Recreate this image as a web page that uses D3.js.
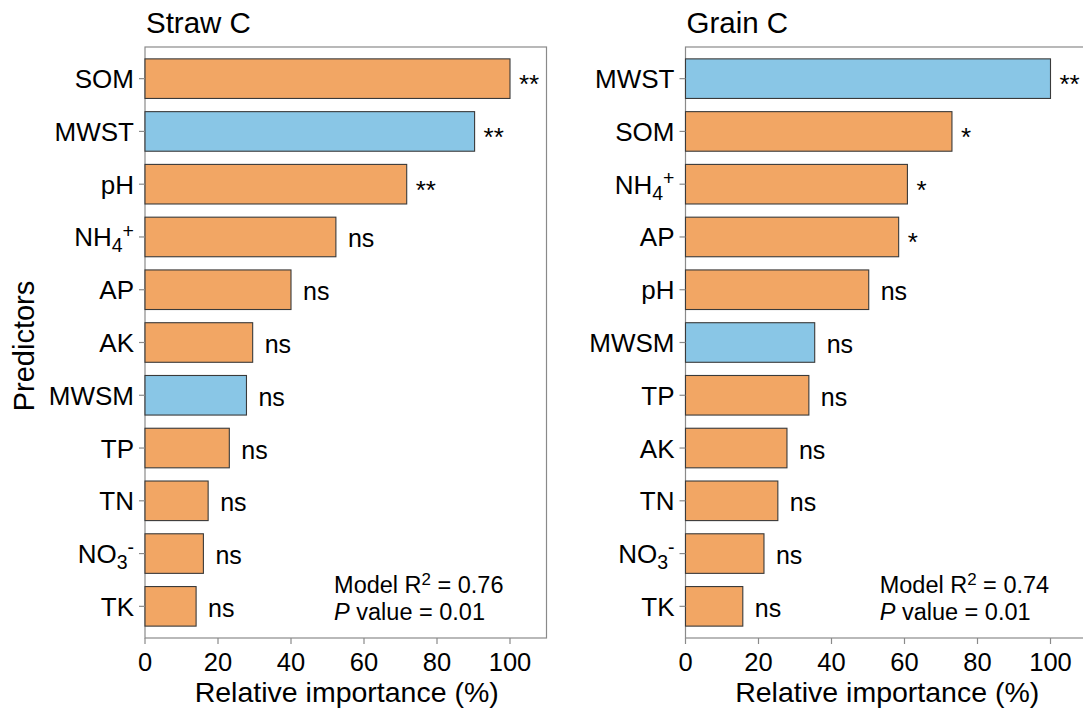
<!DOCTYPE html>
<html><head><meta charset="utf-8">
<script src="https://cdn.jsdelivr.net/npm/d3@7"></script>
<style>
body{margin:0;background:#fff;}
text{font-family:"Liberation Sans",Arial,Helvetica,sans-serif;fill:#000;}
</style></head>
<body><svg id="c" width="1083" height="711"></svg>
<script>
// Straw C panel
const strawPredictors = ["SOM","MWST","pH","NH4+","AP","AK","MWSM","TP","TN","NO3-","TK"];
const strawValues     = [100, 90.3, 71.7, 52.3, 40.0, 29.5, 27.8, 23.1, 17.3, 16.0, 14.0];
const strawSig        = ["**","**","**","ns","ns","ns","ns","ns","ns","ns","ns"];
const strawGroup      = ["soil","climate","soil","soil","soil","soil","climate","soil","soil","soil","soil"];
// Grain C panel
const grainPredictors = ["MWST","SOM","NH4+","AP","pH","MWSM","TP","AK","TN","NO3-","TK"];
const grainValues     = [100, 73.0, 60.8, 58.4, 50.2, 35.4, 33.8, 27.8, 25.3, 21.5, 15.7];
const grainSig        = ["**","*","*","*","ns","ns","ns","ns","ns","ns","ns"];
const grainGroup      = ["climate","soil","soil","soil","soil","climate","soil","soil","soil","soil","soil"];
const xTicks = [0,20,40,60,80,100];
const panelTitles = ["Straw C","Grain C"];
const modelR2 = ["0.76","0.74"];
const pValues = ["0.01","0.01"];

(function(){
const colors = {soil:"#F2A664", climate:"#89C6E6"};
const svg = d3.select("#c");
const yTop = 47, yBot = 638, pw = 401.5;
const panels = [
  {x0:145, title:panelTitles[0], preds:strawPredictors, vals:strawValues, sig:strawSig, grp:strawGroup, r2:modelR2[0], p:pValues[0], ax:51.8},
  {x0:685.5, title:panelTitles[1], preds:grainPredictors, vals:grainValues, sig:grainSig, grp:grainGroup, r2:modelR2[1], p:pValues[1], ax:53.2}
];

function labelText(sel, name){
  const m = name.match(/^(NH|NO)(\d)([+-])$/);
  if(!m){ sel.text(name); return; }
  sel.append("tspan").text(m[1]);
  sel.append("tspan").attr("font-size","0.75em").attr("dy","0.3em").text(m[2]);
  sel.append("tspan").attr("font-size","0.75em").attr("dy","-0.75em").text(m[3]);
}

panels.forEach(P=>{
  const g = svg.append("g").attr("transform",`translate(${P.x0},0)`);
  const x = d3.scaleLinear().domain([0,110]).range([0,pw]);
  const y = d3.scalePoint().domain(P.preds).range([yTop,yBot]).padding(0.6);
  const bh = y.step()*0.75;

  g.append("rect").attr("x",0).attr("y",yTop).attr("width",pw).attr("height",yBot-yTop)
    .attr("fill","none").attr("stroke","#8a8a8a").attr("stroke-width",1.2);

  g.selectAll("rect.bar").data(P.preds).join("rect").attr("class","bar")
    .attr("x",x(0)).attr("y",d=>y(d)-bh/2)
    .attr("width",(d,i)=>x(P.vals[i])-x(0)).attr("height",bh)
    .attr("fill",(d,i)=>colors[P.grp[i]]).attr("stroke","#3a3a3a").attr("stroke-width",1.1);

  g.selectAll("text.sig").data(P.preds).join("text").attr("class","sig")
    .attr("x",(d,i)=>x(P.vals[i]) + (P.sig[i]==="ns"?12:9))
    .attr("y",(d,i)=>y(d) + (P.sig[i]==="ns"?10.5:14.5))
    .attr("font-size",(d,i)=>P.sig[i]==="ns"?"25px":"26px")
    .text((d,i)=>P.sig[i]);

  const yT = g.append("g");
  P.preds.forEach(d=>{
    yT.append("line").attr("x1",-6).attr("x2",0).attr("y1",y(d)).attr("y2",y(d))
      .attr("stroke","#8a8a8a").attr("stroke-width",1.2);
    const t = yT.append("text").attr("x",-11).attr("y",y(d)+9.5).attr("text-anchor","end")
      .attr("font-size","26px");
    labelText(t,d);
  });

  const xa = g.append("g");
  xTicks.forEach(v=>{
    xa.append("line").attr("x1",x(v)).attr("x2",x(v)).attr("y1",yBot).attr("y2",yBot+6)
      .attr("stroke","#8a8a8a").attr("stroke-width",1.2);
    xa.append("text").attr("x",x(v)).attr("y",yBot+33).attr("text-anchor","middle")
      .attr("font-size","25.5px").text(v);
  });

  g.append("text").attr("x",pw/2+1).attr("y",702).attr("text-anchor","middle")
    .attr("font-size","28.5px").text("Relative importance (%)");
  g.append("text").attr("x",1).attr("y",33).attr("font-size","29.5px").text(P.title);

  const t1 = g.append("text").attr("x",x(P.ax)).attr("y",593).attr("font-size","23.5px");
  t1.append("tspan").text("Model R");
  t1.append("tspan").attr("font-size","0.72em").attr("dy","-0.45em").text("2");
  t1.append("tspan").attr("dy","0.324em").text(" = " + P.r2);
  const t2 = g.append("text").attr("x",x(P.ax)).attr("y",620).attr("font-size","23.5px");
  t2.append("tspan").attr("font-style","italic").text("P");
  t2.append("tspan").text(" value = " + P.p);
});

svg.append("text").attr("transform","translate(34,346) rotate(-90)").attr("text-anchor","middle")
  .attr("font-size","29px").text("Predictors");
})();
</script></body></html>
